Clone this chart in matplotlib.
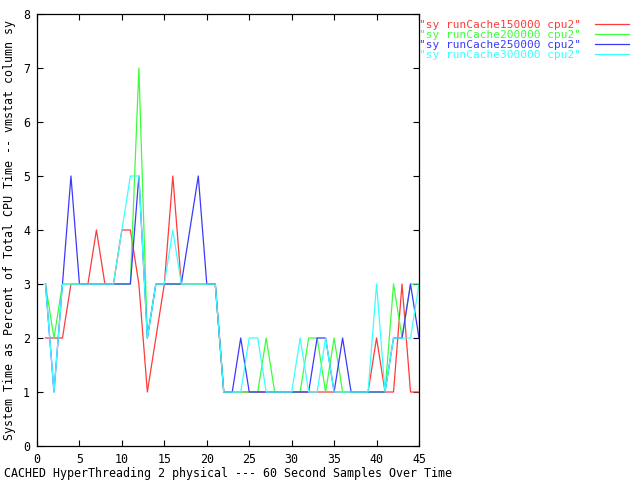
import matplotlib
matplotlib.use('Agg')
import matplotlib.pyplot as plt

samples = list(range(1, 46))

sy_150000 = [2, 2, 2, 3, 3, 3, 4, 3, 3, 4, 4, 3, 1, 2, 3, 5, 3, 3, 3, 3, 3, 1,
             1, 1, 1, 1, 1, 1, 1, 1, 1, 1, 1, 1, 1, 1, 1, 1, 1, 2, 1, 1, 3, 1, 1]
sy_200000 = [3, 2, 3, 3, 3, 3, 3, 3, 3, 3, 3, 7, 2, 3, 3, 3, 3, 3, 3, 3, 3, 1,
             1, 1, 1, 1, 2, 1, 1, 1, 1, 2, 2, 1, 2, 1, 1, 1, 1, 1, 1, 3, 2, 3, 3]
sy_250000 = [3, 1, 3, 5, 3, 3, 3, 3, 3, 3, 3, 5, 2, 3, 3, 3, 3, 4, 5, 3, 3, 1,
             1, 2, 1, 1, 1, 1, 1, 1, 1, 1, 2, 2, 1, 2, 1, 1, 1, 1, 1, 2, 2, 3, 2]
sy_300000 = [3, 1, 3, 3, 3, 3, 3, 3, 3, 4, 5, 5, 2, 3, 3, 4, 3, 3, 3, 3, 3, 1,
             1, 1, 2, 2, 1, 1, 1, 1, 2, 1, 1, 2, 1, 1, 1, 1, 1, 3, 1, 2, 2, 2, 3]

labels = ['"sy runCache150000 cpu2"', '"sy runCache200000 cpu2"',
          '"sy runCache250000 cpu2"', '"sy runCache300000 cpu2"']
colors = ['#ff3a3a', '#3aff3a', '#3a3aff', '#3affff']

plt.rcParams['font.family'] = ['DejaVu Sans Mono']
plt.rcParams['font.size'] = 8.4

fig = plt.figure(figsize=(6.4, 4.8), dpi=100)
ax = fig.add_axes([37 / 640, 34 / 480, 382 / 640, 432 / 480])

for series, label, color in zip([sy_150000, sy_200000, sy_250000, sy_300000], labels, colors):
    ax.plot(samples, series, color=color, linewidth=0.9, label=label)

ax.set_xlim(0, 45)
ax.set_ylim(0, 8)
ax.set_xticks(range(0, 46, 5))
ax.set_yticks(range(0, 9))
ax.tick_params(direction='in', top=True, right=True, length=4.5, width=0.8)
ax.tick_params(axis='x', pad=5)
ax.tick_params(axis='y', pad=5)
for s in ax.spines.values():
    s.set_linewidth(0.9)

ax.set_xlabel('CACHED HyperThreading 2 physical --- 60 Second Samples Over Time', va='center')
ax.xaxis.set_label_coords(0.5, -27 / 432)
ax.set_ylabel('System Time as Percent of Total CPU Time -- vmstat column sy', va='center')
ax.yaxis.set_label_coords(-27 / 382, 0.5)

# gnuplot style key: text first, sample line after it
ax.legend(loc='upper left', bbox_to_anchor=(1.0, 0.987), frameon=False, markerfirst=False,
          labelcolor='linecolor', fontsize=8.0, borderaxespad=0, borderpad=0,
          handlelength=3.06, handletextpad=1.26, labelspacing=0)

fig.savefig('out.png', dpi=100)
